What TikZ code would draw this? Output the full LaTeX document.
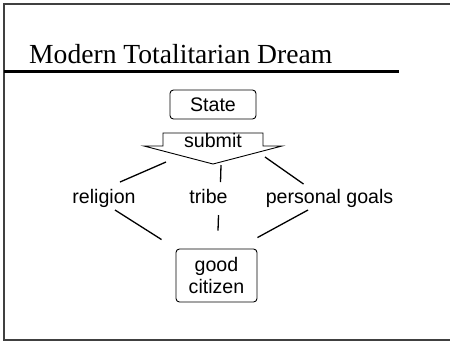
\documentclass[tikz,border=0pt]{standalone}
\usepackage{fontspec}
\setmainfont{Liberation Serif}
\newfontfamily\labelfont{Liberation Sans}
\usetikzlibrary{calc}
\begin{document}
\begin{tikzpicture}[x=1bp,y=-1bp,
  frameline/.style={draw=black!75,line width=1.3bp},
  label/.style={font=\labelfont\fontsize{19.6bp}{21bp}\selectfont,inner sep=0pt,anchor=base},
  roundbox/.style={draw,line width=0.9bp,rounded corners=3.5bp,inner sep=0pt,
    font=\labelfont\fontsize{19.6bp}{21.5bp}\selectfont,align=center},
  link/.style={line width=1.3bp}]
\useasboundingbox (0,0) rectangle (450,341);
% slide frame, open on the right
\draw[frameline] (455,4) -- (4,4) -- (4,340) -- (455,340);
% title and rule
\node[font=\fontsize{27.6bp}{30bp}\selectfont,inner sep=0pt,anchor=base west] (title) at (29,63) {Modern Totalitarian Dream};
\draw[line width=3bp] (4,71.5) -- (399,71.5);
% top box
\node[roundbox,minimum width=86bp,minimum height=29bp] (state) at (213,104.5) {State};
% submit arrow
\coordinate (tl) at (163,133);
\coordinate (tr) at (263,133);
\coordinate (wl) at (144,146);
\coordinate (wr) at (282,146);
\coordinate (tip) at (213,164);
\draw[line width=0.9bp,line join=miter] (tl) -- (tr) -- (tr |- wr) -- (wr) -- (tip) -- (wl) -- (tl |- wl) -- cycle;
\node[label] (sub) at (213,147) {submit};
% middle labels
\node[label] (religion) at (104,203) {religion};
\node[label] (tribe) at (208.5,203) {tribe};
\node[label] (goals) at (329.5,203) {personal goals};
% bottom box
\node[roundbox,minimum width=81bp,minimum height=53bp] (citizen) at (216.5,275.5) {good\\citizen};
% links up to the arrow
\draw[link] ($(religion.base)+(16,-21)$) -- ($(tip)+(-47,-2)$);
\draw[link] ($(tribe.base)+(12,-21)$) -- ($(tip)+(8,1)$);
\draw[link] ($(goals.base)+(-26,-19)$) -- ($(tip)+(52,-7)$);
% links down to the citizen box
\draw[link] ($(religion.base)+(11,7)$) -- ($(citizen.north west)+(-14,-9)$);
\draw[link] ($(tribe.base)+(10,12)$) -- ($(citizen.north)+(1.5,-18)$);
\draw[link] ($(goals.base)+(-21.5,7)$) -- ($(citizen.north east)+(0,-11)$);
\end{tikzpicture}
\end{document}
